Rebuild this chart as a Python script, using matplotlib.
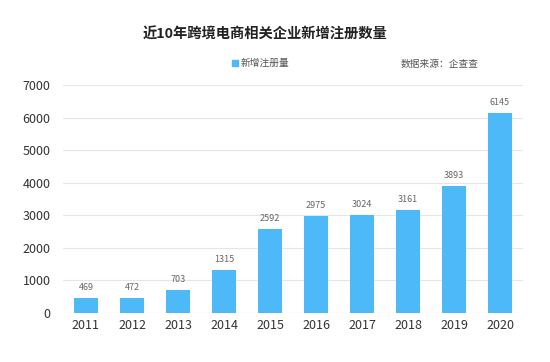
import matplotlib
matplotlib.use("Agg")
import matplotlib.pyplot as plt

plt.rcParams['font.family'] = ['Noto Sans CJK SC', 'DejaVu Sans']

years = ['2011', '2012', '2013', '2014', '2015', '2016', '2017', '2018', '2019', '2020']
counts = [469, 472, 703, 1315, 2592, 2975, 3024, 3161, 3893, 6145]
yticks = [0, 1000, 2000, 3000, 4000, 5000, 6000, 7000]
title = '近10年跨境电商相关企业新增注册数量'
series_name = '新增注册量'
source = '数据来源：企查查'

bar_color = '#4DB9F9'

fig = plt.figure(figsize=(5.5, 3.62), dpi=100)
ax = fig.add_axes([0.1145, 0.1354, 0.8365, 0.6296])
x = range(len(years))
bars = ax.bar(x, counts, width=0.54, color=bar_color, zorder=3)
for xi, v in zip(x, counts):
    ax.text(xi, v + 180, str(v), ha='center', va='bottom', fontsize=6.5, color='#666666')

ax.set_xlim(-0.5, len(years) - 0.5)
ax.set_ylim(0, 7000)
ax.set_yticks(yticks)
ax.set_xticks(list(x))
ax.set_xticklabels(years)
ax.tick_params(axis='both', length=0, labelsize=9, colors='#333333')
ax.tick_params(axis='y', pad=9)
ax.tick_params(axis='x', pad=4)
ax.yaxis.grid(True, color='#E6E6E6', linewidth=0.8, zorder=0)
for s in ax.spines.values():
    s.set_visible(False)
ax.axhline(0, color='#E0E0E0', linewidth=0.8, zorder=2)

fig.text(0.4825, 0.905, title, ha='center', va='center', fontsize=10.3, fontweight='bold', color='#222222')
fig.patches.append(plt.Rectangle((0.421, 0.817), 0.0115, 0.0175, transform=fig.transFigure, color=bar_color))
fig.text(0.437, 0.826, series_name, ha='left', va='center', fontsize=7, color='#555555')
fig.text(0.87, 0.823, source, ha='right', va='center', fontsize=7, color='#555555')

fig.savefig('out.png', dpi=100)
